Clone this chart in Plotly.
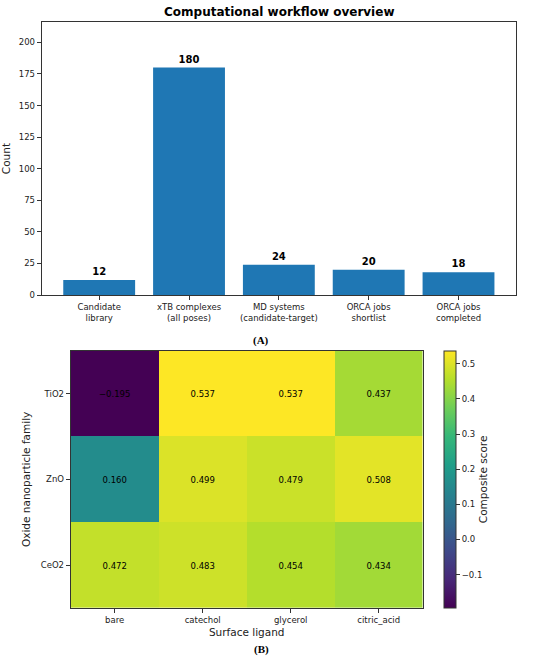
import plotly.graph_objects as go

# workflow stage counts (panel A)
stages = [
    "Candidate<br>library",
    "xTB complexes<br>(all poses)",
    "MD systems<br>(candidate-target)",
    "ORCA jobs<br>shortlist",
    "ORCA jobs<br>completed",
]
counts = [12, 180, 24, 20, 18]

# composite score heatmap (panel B)
ligands = ["bare", "catechol", "glycerol", "citric_acid"]
oxides = ["TiO2", "ZnO", "CeO2"]
scores = [
    [-0.195, 0.537, 0.537, 0.437],
    [0.160, 0.499, 0.479, 0.508],
    [0.472, 0.483, 0.454, 0.434],
]

W, H = 550, 665
FONT = "DejaVu Sans"
FRAME = "#333333"


# helpers: reference pixel -> paper fraction
def px_x(v):
    return v / W


def px_y(v):
    return 1 - v / H


labels = [[f"{v:.3f}".replace("-", "\u2212") for v in row] for row in scores]

fig = go.Figure()

fig.add_trace(go.Bar(
    x=list(range(len(stages))),
    y=counts,
    width=0.8,
    marker=dict(color="#1f77b4", line=dict(width=0)),
    text=[f"<b>{c}</b>" for c in counts],
    textposition="outside",
    textfont=dict(family=FONT, size=10, color="black"),
    cliponaxis=False,
    hoverinfo="skip",
    xaxis="x", yaxis="y",
    showlegend=False,
))

fig.add_trace(go.Heatmap(
    z=scores,
    x=ligands,
    y=oxides,
    text=labels,
    texttemplate="%{text}",
    textfont=dict(family=FONT, size=8.5, color="black"),
    colorscale="Viridis",
    zmin=min(min(r) for r in scores),
    zmax=max(max(r) for r in scores),
    hoverinfo="skip",
    xaxis="x2", yaxis="y2",
    colorbar=dict(
        x=px_x(444.3), xanchor="left",
        y=(px_y(353.3) + px_y(612.7)) / 2, yanchor="middle",
        len=(612.7 - 353.3) / H, lenmode="fraction",
        thickness=11.7, thicknessmode="pixels",
        outlinewidth=1, outlinecolor=FRAME,
        tickvals=[-0.1, 0.0, 0.1, 0.2, 0.3, 0.4, 0.5],
        tickformat=".1f",
        ticks="outside", ticklen=4, tickcolor=FRAME,
        tickfont=dict(family=FONT, size=8.5, color="#222"),
        title=dict(text="Composite score", side="right",
                   font=dict(family=FONT, size=10.5, color="#222")),
        xpad=0, ypad=0,
    ),
))

axis_common = dict(
    showline=True, linecolor=FRAME, linewidth=1, mirror=True,
    ticks="outside", ticklen=4, tickcolor=FRAME,
    showgrid=False, zeroline=False,
    tickfont=dict(family=FONT, size=8.5, color="#222"),
)

fig.update_layout(
    width=W, height=H,
    margin=dict(l=0, r=0, t=0, b=0),
    paper_bgcolor="white", plot_bgcolor="white",
    font=dict(family=FONT, color="#222"),
    xaxis=dict(
        axis_common,
        domain=[px_x(41.7), px_x(516)],
        range=[-0.64, 4.64],
        tickvals=list(range(len(stages))),
        ticktext=stages,
        anchor="y",
    ),
    yaxis=dict(
        axis_common,
        domain=[px_y(297.3), px_y(22.3)],
        range=[0, 216],
        tickvals=[0, 25, 50, 75, 100, 125, 150, 175, 200],
        title=dict(text="Count", font=dict(family=FONT, size=10.5), standoff=10),
        anchor="x",
    ),
    xaxis2=dict(
        axis_common,
        domain=[px_x(70.7), px_x(422.7)],
        title=dict(text="Surface ligand", font=dict(family=FONT, size=10.5), standoff=4),
        anchor="y2",
    ),
    yaxis2=dict(
        axis_common,
        domain=[px_y(612.7), px_y(353.3)],
        autorange="reversed",
        title=dict(text="Oxide nanoparticle family", font=dict(family=FONT, size=10.5), standoff=8),
        anchor="x2",
    ),
    annotations=[
        dict(text="<b>Computational workflow overview</b>", x=px_x(279), y=px_y(12),
             xref="paper", yref="paper", xanchor="center", yanchor="middle", showarrow=False,
             font=dict(family=FONT, size=12, color="black")),
        dict(text="<b>(A)</b>", x=px_x(261), y=px_y(343), xref="paper", yref="paper",
             xanchor="center", yanchor="middle",
             showarrow=False, font=dict(family="Liberation Serif", size=11, color="black")),
        dict(text="<b>(B)</b>", x=px_x(261), y=px_y(654), xref="paper", yref="paper",
             xanchor="center", yanchor="middle",
             showarrow=False, font=dict(family="Liberation Serif", size=11, color="black")),
    ],
)

# drop the browser's default 8px body margin so the figure sits at the page corner
fig.write_html(
    "out.html",
    config={"displayModeBar": False},
    post_script="document.body.style.margin = '0';",
)
